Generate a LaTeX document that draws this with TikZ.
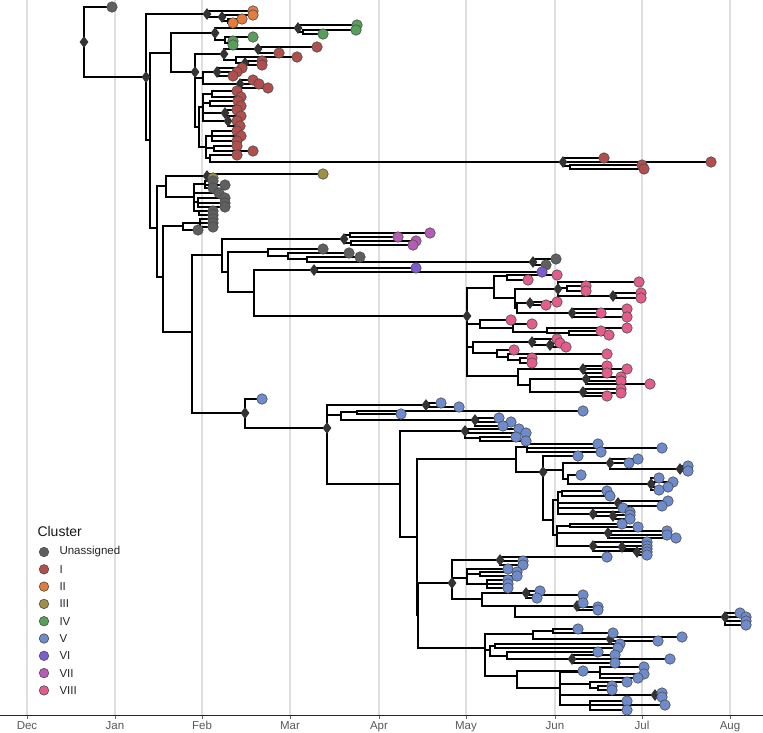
\documentclass[tikz,border=0pt]{standalone}
\usepackage{fontspec}
\setmainfont{Liberation Sans}
\usetikzlibrary{shapes.geometric}
\definecolor{ua}{RGB}{95,95,95}
\definecolor{cI}{RGB}{178,78,76}
\definecolor{cII}{RGB}{228,124,60}
\definecolor{cIII}{RGB}{160,142,66}
\definecolor{cIV}{RGB}{88,160,90}
\definecolor{cV}{RGB}{110,140,205}
\definecolor{cVI}{RGB}{125,92,210}
\definecolor{cVII}{RGB}{182,92,182}
\definecolor{cVIII}{RGB}{228,92,140}
\definecolor{gridc}{RGB}{222,222,222}
\pgfdeclarelayer{bg}\pgfdeclarelayer{dia}\pgfdeclarelayer{tips}
\pgfsetlayers{bg,main,dia,tips}
\tikzset{
  br/.style={line width=2.2pt,line cap=rect,black},
  tipc/.style={circle,draw=black!70,line width=0.6pt,minimum size=10.5pt,inner sep=0pt},
  diam/.style={diamond,fill=black!80,draw=none,minimum width=9pt,minimum height=12pt,inner sep=0pt},
  month/.style={text=black!65,font=\fontsize{11.5}{13}\selectfont,anchor=base},
  leg/.style={text=black!85,font=\fontsize{11.5}{13}\selectfont,anchor=west}
}
\def\cc{ua}
\newcommand\setc[1]{\def\cc{#1}}
\newcommand\myv[3]{\draw[br] (#1,#2) -- (#1,#3);}
\newcommand\myh[3]{\draw[br] (#2,#1) -- (#3,#1);}
\newcommand\myt[3]{\draw[br] (#2,#1) -- (#3,#1);\begin{pgfonlayer}{tips}\node[tipc,fill=\cc] at (#3,#1) {};\end{pgfonlayer}}
\newcommand\myd[2]{\begin{pgfonlayer}{dia}\node[diam] at (#1,#2) {};\end{pgfonlayer}}
\begin{document}
\begin{tikzpicture}[x=1pt,y=-1pt]
\useasboundingbox (0,0) rectangle (763,732);
% grid
\begin{pgfonlayer}{bg}
\fill[white] (0,0) rectangle (763,732);
\foreach \gx/\lab in {27/Dec,115/Jan,202/Feb,290/Mar,379/Apr,466/May,555/Jun,642/Jul,730/Aug}{
  \draw[gridc,line width=1.4pt] (\gx,0) -- (\gx,715);
  \draw[black!60,line width=0.8pt] (\gx,715) -- (\gx,719);
  \node[month] (m\lab) at (\gx,729) {\lab};
}
\draw[black!85,line width=1pt] (0,715) -- (763,715);
\end{pgfonlayer}
% ---------------- tree -----------------
% root
\myv{84}{7}{77}
\myt{7}{84}{112}
\myh{77}{84}{146}
\myd{84}{42}\myd{146}{77}
% A
\myv{146}{14}{140}
\myh{14}{146}{207}\myd{207}{14}
\setc{cII}
\myv{207}{11}{17}
\myt{11}{207}{253}
\myh{17}{207}{222}\myd{222}{17}
\myv{222}{15}{21}
\myt{15}{222}{253}
\myh{21}{222}{228}\myv{228}{19}{23}
\myt{19}{228}{242}\myt{23}{228}{233}
\myh{140}{146}{150}
% B
\myv{150}{53}{228}
\myh{53}{150}{171}
\myv{171}{33}{72}
\myh{33}{171}{215}\myd{215}{33}
\setc{cIV}
\myv{215}{28}{40}
\myh{28}{215}{298}\myd{298}{28}
\myv{298}{25}{32}
\myt{25}{298}{357}
\myh{32}{298}{303}\myv{303}{30}{34}
\myt{30}{303}{356}\myt{34}{303}{323}
\myh{40}{215}{225}\myv{225}{37}{43}
\myt{37}{225}{253}
\myh{43}{225}{230}\myv{230}{41}{45}
\myt{41}{230}{233}\myt{45}{230}{233}
% cluster I
\setc{cI}
\myh{72}{171}{195}\myd{195}{72}
\myv{195}{54}{127}
\myh{54}{195}{224}\myd{224}{54}
\myv{224}{49}{60}
\myh{49}{224}{258}\myd{258}{49}\myv{258}{47}{53}
\myt{47}{258}{317}\myt{53}{258}{279}
\myh{60}{224}{236}\myv{236}{57}{63}
\myt{57}{236}{297}
\myh{63}{236}{245}\myd{245}{63}\myv{245}{61}{65}
\myt{61}{245}{262}\myt{65}{245}{262}
\myh{78}{195}{203}\myv{203}{72}{84}
\myh{72}{203}{217}\myd{217}{72}\myv{217}{68}{76}
\myt{68}{217}{242}\myt{72}{217}{237}\myt{76}{217}{233}
\myh{84}{203}{240}\myd{240}{84}\myv{240}{80}{88}
\myt{80}{240}{253}\myt{84}{240}{259}\myt{88}{240}{268}
\myh{127}{195}{199}\myv{199}{107}{147}
\myh{107}{199}{203}\myv{203}{94}{121}
\myh{94}{203}{212}\myv{212}{91}{97}\myt{91}{212}{237}\myt{97}{212}{241}
\myh{103}{203}{210}\myv{210}{101}{106}\myt{101}{210}{238}\myt{106}{210}{241}
\myh{113}{203}{225}\myd{225}{113}\myv{225}{110}{116}\myt{110}{225}{237}\myt{116}{225}{241}
\myh{121}{203}{228}\myd{228}{121}\myv{228}{121}{126}\myt{121}{228}{237}\myt{126}{228}{240}
\myh{147}{199}{206}\myv{206}{136}{158}
\myh{136}{206}{212}\myv{212}{131}{141}\myt{131}{212}{237}\myt{136}{212}{241}\myt{141}{212}{237}
\myh{148}{206}{214}\myv{214}{146}{151}\myt{146}{214}{237}\myt{151}{214}{253}
\myh{158}{206}{210}\myv{210}{155}{162}\myt{155}{210}{237}
\myh{162}{210}{563}\myd{563}{162}\myv{563}{158}{166}
\myt{158}{563}{604}\myt{162}{563}{711}
\myh{166}{563}{570}\myv{570}{165}{169}\myt{165}{570}{642}\myt{169}{570}{644}
% B2 and unassigned
\setc{ua}
\myh{228}{150}{157}
\myv{157}{186}{277}
\myh{186}{157}{166}
\myv{166}{176}{197}
\myh{176}{166}{207}\myd{207}{176}\myv{207}{174}{178}
\setc{cIII}\myt{174}{207}{323}\myt{178}{207}{213}\setc{ua}
\myh{197}{166}{194}\myv{194}{184}{211}
\myh{184}{194}{205}\myv{205}{181}{188}\myt{181}{205}{213}\myt{185}{205}{225}\myt{188}{205}{213}
\myt{193}{194}{219}
\myh{202}{194}{198}\myv{198}{198}{207}\myt{198}{198}{225}\myt{203}{198}{225}\myt{207}{198}{225}
\myh{211}{194}{199}\myv{199}{211}{215}\myt{211}{199}{213}\myt{215}{199}{213}
\myh{277}{157}{163}
\myv{163}{226}{332}
\myh{226}{163}{183}\myv{183}{223}{230}
\myh{223}{183}{200}\myv{200}{219}{227}\myt{219}{200}{213}\myt{223}{200}{213}\myt{227}{200}{213}
\myt{230}{183}{198}
\myh{332}{163}{192}
% M
\myv{192}{255}{413}
\myh{255}{192}{222}
\myv{222}{239}{272}
\myh{239}{222}{344}\myd{344}{239}
\setc{cVII}
\myv{344}{235}{243}
\myh{235}{344}{350}\myv{350}{233}{237}\myt{233}{350}{430}\myt{237}{350}{398}
\myh{243}{344}{351}\myv{351}{241}{245}\myt{241}{351}{416}\myt{245}{351}{413}
\setc{ua}
\myh{272}{222}{228}
\myv{228}{252}{292}
\myh{252}{228}{268}\myv{268}{249}{256}
\myt{249}{268}{323}
\myh{256}{268}{288}\myv{288}{253}{259}
\myt{253}{288}{349}
\myh{259}{288}{307}\myv{307}{257}{262}
\myt{257}{307}{360}
\myh{262}{307}{533}\myd{533}{262}\myv{533}{259}{265}
\myt{259}{533}{556}\myt{265}{533}{546}
\myh{292}{228}{254}
\myv{254}{270}{316}
\setc{cVI}
\myh{270}{254}{314}\myd{314}{270}\myv{314}{268}{272}
\myt{268}{314}{416}\myt{272}{314}{542}
\myh{316}{254}{467}\myd{467}{316}
% VIII
\setc{cVIII}
\myv{467}{288}{376}
\myh{288}{467}{494}\myv{494}{276}{298}
\myh{276}{494}{507}\myv{507}{275}{280}\myt{275}{507}{557}\myt{280}{507}{528}
\myh{298}{494}{515}\myv{515}{289}{308}
\myh{289}{515}{558}\myd{558}{289}\myv{558}{282}{296}
\myt{282}{558}{639}
\myh{288}{558}{567}\myv{567}{286}{291}\myt{286}{567}{586}\myt{291}{567}{586}
\myh{296}{558}{613}\myd{613}{296}\myv{613}{293}{298}\myt{293}{613}{641}\myt{298}{613}{641}
\myh{308}{515}{517}\myv{517}{303}{313}
\myh{303}{517}{530}\myd{530}{303}\myv{530}{302}{305}\myt{302}{530}{557}\myt{305}{530}{546}
\myh{313}{517}{572}\myd{572}{313}\myv{572}{309}{317}\myt{309}{572}{627}\myt{313}{572}{601}\myt{317}{572}{627}
\myh{324}{467}{480}\myv{480}{320}{328}
\myt{320}{480}{511}
\myh{328}{480}{513}\myv{513}{324}{332}
\myt{324}{513}{532}
\myh{332}{513}{547}\myv{547}{328}{333}
\myt{328}{547}{627}
\myh{333}{547}{569}\myv{569}{331}{335}\myt{331}{569}{601}\myt{335}{569}{609}
\myh{347}{467}{473}\myv{473}{342}{353}
\myh{342}{473}{532}\myd{532}{342}\myv{532}{339}{345}
\myt{339}{532}{557}
\myh{345}{532}{550}\myd{550}{345}\myv{550}{343}{347}\myt{343}{550}{560}\myt{347}{550}{566}
\myh{353}{473}{497}\myv{497}{350}{357}
\myt{350}{497}{514}
\myh{357}{497}{508}\myv{508}{354}{360}
\myt{354}{508}{607}
\myh{360}{508}{520}\myv{520}{358}{363}\myt{358}{520}{532}\myt{363}{520}{532}
\myh{376}{467}{518}\myv{518}{369}{385}
\myh{369}{518}{583}\myd{583}{369}\myv{583}{366}{373}\myt{366}{583}{607}\myt{369}{583}{627}\myt{373}{583}{607}
\myh{385}{518}{530}\myv{530}{379}{392}
\myh{379}{530}{586}\myd{586}{379}\myv{586}{377}{384}
\myt{377}{586}{621}\myt{381}{586}{621}\myt{384}{586}{650}
\myh{392}{530}{583}\myd{583}{392}\myv{583}{389}{396}\myt{389}{583}{621}\myt{393}{583}{621}\myt{396}{583}{607}
% V
\setc{cV}
\myh{413}{192}{245}\myd{245}{413}
\myv{245}{399}{428}
\myt{399}{245}{262}
\myh{428}{245}{327}\myd{327}{428}
\myv{327}{405}{484}
\myh{405}{327}{426}\myd{426}{405}\myv{426}{403}{407}\myt{403}{426}{441}\myt{407}{426}{459}
\myh{415}{327}{341}\myv{341}{412}{420}
\myh{412}{341}{357}\myv{357}{411}{414}\myt{411}{357}{583}\myt{414}{357}{401}
\myh{420}{341}{475}\myd{475}{420}\myv{475}{418}{426}\myt{418}{475}{499}\myt{422}{475}{511}\myt{426}{475}{503}
\myh{484}{327}{400}
\myv{400}{431}{537}
\myh{431}{400}{465}\myd{465}{431}\myv{465}{429}{438}
\myt{429}{465}{519}\myt{433}{465}{526}
\myh{438}{465}{480}\myv{480}{437}{441}\myt{437}{480}{516}\myt{441}{480}{526}
\myh{537}{400}{417}
\myv{417}{459}{615}
\myh{459}{417}{516}\myv{516}{447}{472}
\myh{447}{516}{527}\myv{527}{444}{452}\myt{444}{527}{598}\myt{448}{527}{662}\myt{452}{527}{601}
\myh{472}{516}{543}\myd{543}{472}\myv{543}{456}{520}
\myt{456}{543}{578}
\myh{470}{543}{563}\myv{563}{463}{479}
\myh{463}{563}{610}\myd{610}{463}\myv{610}{459}{469}
\myt{459}{610}{638}\myt{463}{610}{629}
\myh{469}{610}{680}\myd{680}{469}\myv{680}{466}{471}\myt{466}{680}{688}\myt{471}{680}{688}
\myh{479}{563}{568}\myv{568}{475}{484}
\myt{475}{568}{581}
\myh{484}{568}{651}\myd{651}{484}\myv{651}{478}{490}\myt{478}{651}{659}\myt{482}{651}{673}\myt{487}{651}{668}\myt{490}{651}{659}
\myh{520}{543}{553}\myv{553}{500}{535}
\myh{500}{553}{558}\myv{558}{492}{514}
\myh{492}{558}{562}\myv{562}{491}{496}\myt{491}{562}{607}\myt{496}{562}{610}
\myh{503}{558}{618}\myd{618}{503}\myv{618}{501}{506}\myt{501}{618}{668}\myt{506}{618}{662}
\myt{508}{558}{623}
\myh{514}{558}{593}\myd{593}{514}\myv{593}{512}{516}\myt{512}{593}{630}
\myh{516}{593}{613}\myd{613}{516}\myv{613}{515}{519}\myt{515}{613}{630}\myt{519}{613}{630}
\myh{535}{553}{557}\myv{557}{526}{546}
\myh{526}{557}{570}\myv{570}{524}{527}\myt{524}{570}{622}\myt{527}{570}{638}
\myh{533}{557}{608}\myd{608}{533}\myv{608}{531}{538}\myt{531}{608}{667}\myt{535}{608}{667}\myt{538}{608}{676}
\myh{546}{557}{593}\myd{593}{546}\myv{593}{542}{551}\myt{542}{593}{647}
\myh{547}{593}{622}\myd{622}{547}\myv{622}{546}{549}\myt{546}{622}{647}\myt{549}{622}{647}
\myh{551}{593}{637}\myd{637}{552}\myv{637}{552}{555}\myt{552}{637}{647}\myt{555}{637}{647}
\myh{615}{417}{418}
\myv{418}{583}{648}
\myh{583}{418}{452}\myd{452}{583}\myv{452}{560}{599}
\myh{560}{452}{500}\myd{500}{560}\myv{500}{557}{565}\myt{557}{500}{607}\myt{561}{500}{523}\myt{565}{500}{523}
\myh{578}{452}{467}\myv{467}{569}{584}
\myt{569}{467}{508}
\myh{574}{467}{480}\myv{480}{572}{576}\myt{572}{480}{517}\myt{576}{480}{517}
\myh{584}{467}{487}\myv{487}{580}{588}\myt{580}{487}{508}\myt{584}{487}{508}\myt{588}{487}{508}
\myh{599}{452}{482}\myv{482}{593}{606}
\myh{593}{482}{526}\myd{526}{593}\myv{526}{591}{598}\myt{591}{526}{540}\myt{595}{526}{583}\myt{598}{526}{537}
\myh{606}{482}{515}\myv{515}{606}{617}
\myh{606}{515}{577}\myd{577}{606}\myv{577}{603}{610}\myt{603}{577}{583}\myt{607}{577}{598}\myt{610}{577}{598}
\myh{617}{515}{725}\myd{725}{617}\myv{725}{613}{625}\myt{613}{725}{740}\myt{617}{725}{746}\myt{621}{725}{746}\myt{625}{725}{746}
\myh{648}{418}{485}\myv{485}{634}{676}
\myh{634}{485}{533}\myv{533}{631}{639}
\myh{631}{533}{553}\myv{553}{629}{633}\myt{629}{553}{578}\myt{633}{553}{613}
\myh{639}{533}{610}\myd{610}{639}\myv{610}{637}{641}\myt{637}{610}{682}\myt{641}{610}{658}
\myh{650}{485}{490}\myv{490}{646}{656}
\myh{646}{490}{495}\myv{495}{644}{648}\myt{644}{495}{620}\myt{648}{495}{618}
\myh{656}{490}{507}\myv{507}{652}{659}
\myt{652}{507}{598}
\myh{659}{507}{572}\myd{572}{659}\myv{572}{655}{663}\myt{655}{572}{615}\myt{659}{572}{670}\myt{663}{572}{615}
\myh{676}{485}{517}\myv{517}{671}{688}
\myt{671}{517}{583}
\myh{688}{517}{560}\myv{560}{672}{705}
\myh{672}{560}{600}\myv{600}{667}{678}\myt{667}{600}{644}\myt{674}{600}{644}\myt{678}{600}{638}
\myh{684}{560}{590}\myv{590}{682}{688}\myt{682}{590}{627}
\myh{688}{590}{598}\myv{598}{686}{690}\myt{686}{598}{612}\myt{690}{598}{612}
\myh{695}{560}{655}\myd{655}{695}\myv{655}{693}{697}\myt{693}{655}{662}\myt{697}{655}{662}
\myh{705}{560}{590}\myv{590}{701}{710}\myt{701}{590}{627}\myt{705}{590}{665}\myt{710}{590}{627}
% legend
\node[anchor=west,text=black!90,font=\fontsize{14}{16}\selectfont] (legtitle) at (34,531) {Cluster};
\foreach \i/\cl/\lab in {0/ua/Unassigned,1/cI/I,2/cII/II,3/cIII/III,4/cIV/IV,5/cV/V,6/cVI/VI,7/cVII/VII,8/cVIII/VIII}{
  \node[tipc,fill=\cl,minimum size=9.5pt] (lc\i) at (44,552+17.3*\i) {};
  \node[leg] (ll\i) at (56,552+17.3*\i) {\lab};
}
\end{tikzpicture}
\end{document}
